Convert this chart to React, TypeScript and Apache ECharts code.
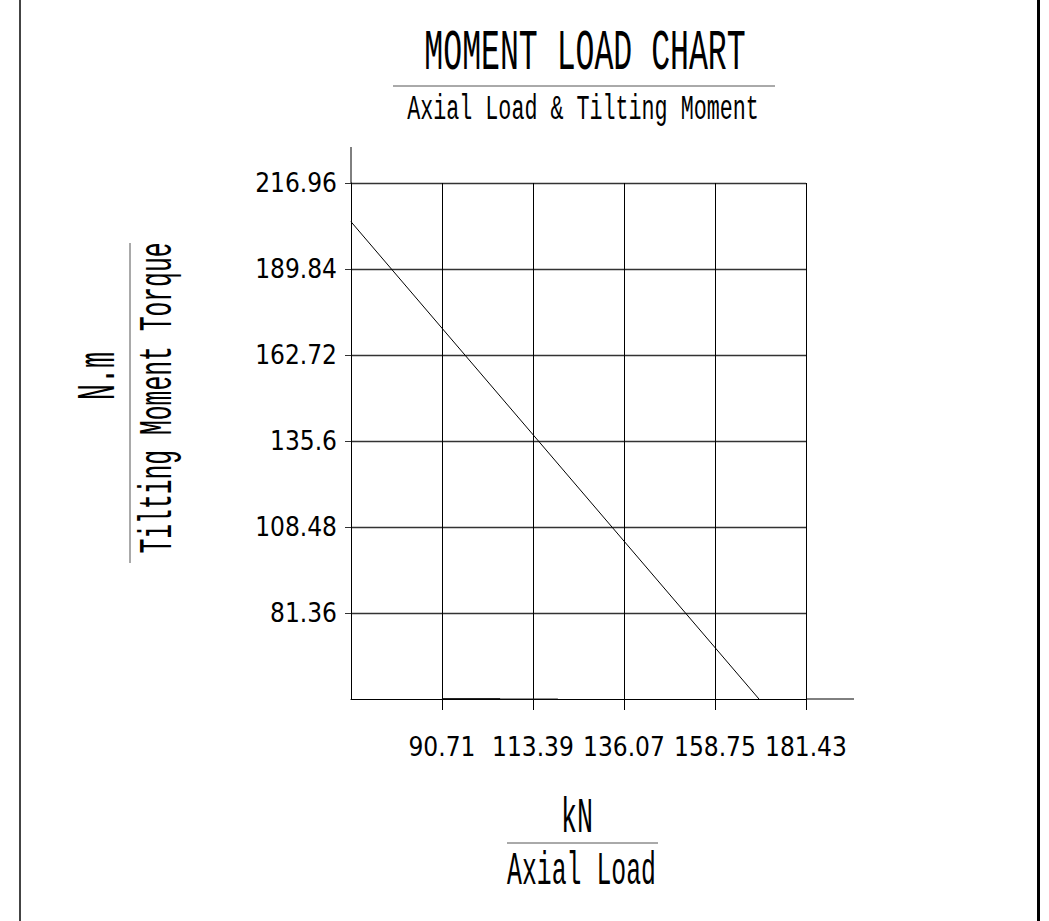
import { useEffect, useRef } from "react";
import * as echarts from "echarts";

// ---- data ----
const xTicks = [90.71, 113.39, 136.07, 158.75, 181.43];
const yTicks = [81.36, 108.48, 135.6, 162.72, 189.84, 216.96];
const xMin = 68.04;
const xMax = 181.44;
const xStep = 22.68;
const yMin = 54.24;
const yMax = 216.96;
const yStep = 27.12;

const momentLineX = [68.03, 169.72];
const momentLineY = [204.76, 54.24];
const baseSegX = [90.71, 119.6];
const baseSegY = [54.24, 54.24];
const coreSegX = [90.71, 105.2];
const coreSegY = [54.24, 54.24];

const titleText = "MOMENT LOAD CHART";
const subtitleText = "Axial Load & Tilting Moment";
const yUnit = "N.m";
const yName = "Tilting Moment Torque";
const xUnit = "kN";
const xName = "Axial Load";

const W = 1049;
const H = 921;
const MONO = "'Liberation Mono', monospace";
const NUM = "DejaVu Sans Condensed";

function pairs(xs: number[], ys: number[]) {
  return xs.map((x, i) => [x, ys[i]]);
}

function txt(
  id: string,
  text: string,
  x: number,
  y: number,
  fs: number,
  scaleY: number,
  rotation = 0
) {
  return {
    type: "text",
    id,
    x,
    y,
    rotation,
    scaleY,
    silent: true,
    style: {
      text,
      font: `${fs}px ${MONO}`,
      fill: "#000",
      align: "center",
      verticalAlign: "middle",
    },
  };
}

function ln(id: string, x1: number, y1: number, x2: number, y2: number, w = 1, c = "#000") {
  return {
    type: "line",
    id,
    silent: true,
    shape: { x1, y1, x2, y2 },
    style: { stroke: c, lineWidth: w },
  };
}

export default function App() {
  const ref = useRef<HTMLDivElement>(null);

  useEffect(() => {
    document.body.style.margin = "0";
    const el = ref.current!;
    const chart = echarts.init(el, undefined, { renderer: "svg" });

    const lineSeries = (name: string, data: number[][], w: number, c: string) => ({
      type: "line",
      name,
      data,
      symbol: "none",
      silent: true,
      lineStyle: { color: c, width: w },
      emphasis: { disabled: true },
    });

    chart.setOption({
      animation: false,
      backgroundColor: "#fff",
      grid: { left: 351, top: 183, right: W - 806, bottom: H - 699, containLabel: false },
      xAxis: {
        type: "value",
        min: xMin,
        max: xMax,
        interval: xStep,
        axisLine: { show: true, lineStyle: { color: "#000", width: 1 } },
        axisTick: { show: true, length: 11, customValues: xTicks, lineStyle: { color: "#000" } },
        axisLabel: {
          customValues: xTicks,
          showMinLabel: true,
          showMaxLabel: true,
          hideOverlap: false,
          margin: 35,
          fontSize: 26,
          fontFamily: NUM,
          color: "#000",
          formatter: (v: number) => String(v),
        },
        splitLine: { show: true, lineStyle: { color: "#000", width: 1 } },
      },
      yAxis: {
        type: "value",
        min: yMin,
        max: yMax,
        interval: yStep,
        axisLine: { show: true, lineStyle: { color: "#000", width: 1 } },
        axisTick: { show: true, length: 6, customValues: yTicks, lineStyle: { color: "#333" } },
        axisLabel: {
          customValues: yTicks,
          showMinLabel: true,
          showMaxLabel: true,
          hideOverlap: false,
          margin: 14,
          fontSize: 26,
          fontFamily: NUM,
          color: "#000",
          formatter: (v: number) => String(v),
        },
        splitLine: { show: true, lineStyle: { color: "#333", width: 1.3 } },
      },
      series: [
        lineSeries("moment", pairs(momentLineX, momentLineY), 1, "#000"),
        lineSeries("base", pairs(baseSegX, baseSegY), 1, "#222"),
        lineSeries("core", pairs(coreSegX, coreSegY), 1.5, "#000"),
      ],
    });

    const topRight = chart.convertToPixel({ gridIndex: 0 }, [xMax, yMax]) as number[];
    const botLeft = chart.convertToPixel({ gridIndex: 0 }, [xMin, yMin]) as number[];

    chart.setOption({
      graphic: [
        ln("yext", botLeft[0], topRight[1], botLeft[0], topRight[1] - 36),
        ln("xext", topRight[0], botLeft[1], topRight[0] + 48, botLeft[1]),
        ln("borderL", 20, 0, 20, H, 2, "#444"),
        ln("borderR", 1038.5, 0, 1038.5, H, 3, "#000"),
        txt("title", titleText, 585, 53.3, 31.5, 1.85),
        ln("titleRule", 393, 86, 775, 86, 1, "#555"),
        txt("subtitle", subtitleText, 583, 110, 21.7, 1.61),
        txt("yUnit", yUnit, 99.6, 376, 27, 2.0, Math.PI / 2),
        ln("yRule", 130, 243, 130, 563, 1, "#555"),
        txt("yName", yName, 158, 398, 24.7, 1.89, Math.PI / 2),
        txt("xUnit", xUnit, 577, 818.8, 26.7, 1.85),
        ln("xRule", 507, 843, 658, 843, 1, "#555"),
        txt("xName", xName, 581.5, 871.7, 24.8, 1.88),
      ],
    });

    return () => chart.dispose();
  }, []);

  return <div ref={ref} style={{ width: W, height: H }} />;
}
